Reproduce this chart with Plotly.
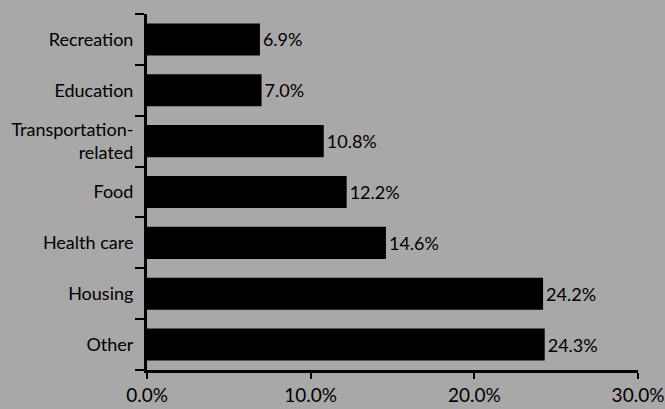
import plotly.graph_objects as go

# Spending categories, listed bottom to top
categories = ["Other", "Housing", "Health care", "Food",
              "Transportation-<br>related", "Education", "Recreation"]
shares = [24.3, 24.2, 14.6, 12.2, 10.8, 7.0, 6.9]
x_ticks = [0, 10, 20, 30]
x_tick_labels = [f"{t:.1f}%" for t in x_ticks]

bg = "#a8a8a8"
font_family = "Lato, 'Open Sans', sans-serif"

fig = go.Figure(
    go.Bar(
        x=shares,
        y=categories,
        orientation="h",
        marker=dict(color="black", line=dict(width=0)),
        width=0.63,
        text=[f"{v:.1f}%" for v in shares],
        textposition="outside",
        textfont=dict(size=18, color="black", family=font_family),
        cliponaxis=False,
        hoverinfo="skip",
    )
)

fig.update_layout(
    width=665,
    height=409,
    margin=dict(l=147, r=27, t=14, b=39),
    paper_bgcolor=bg,
    plot_bgcolor=bg,
    font=dict(family=font_family, size=18, color="black"),
    showlegend=False,
)

fig.update_xaxes(
    range=[0, 30],
    tickmode="array",
    tickvals=x_ticks,
    ticktext=x_tick_labels,
    ticks="outside",
    ticklen=6,
    tickwidth=2,
    tickcolor="black",
    showline=True,
    linewidth=3,
    linecolor="black",
    showgrid=False,
    zeroline=False,
    tickfont=dict(size=19),
    automargin=False,
)

fig.update_yaxes(
    range=[-0.5, 6.5],
    tickson="boundaries",
    ticks="outside",
    ticklen=9,
    tickwidth=2,
    tickcolor="black",
    showline=True,
    linewidth=3,
    linecolor="black",
    showgrid=False,
    tickfont=dict(size=18),
    ticklabelstandoff=7,
    automargin=False,
)

fig.write_html("out.html")
